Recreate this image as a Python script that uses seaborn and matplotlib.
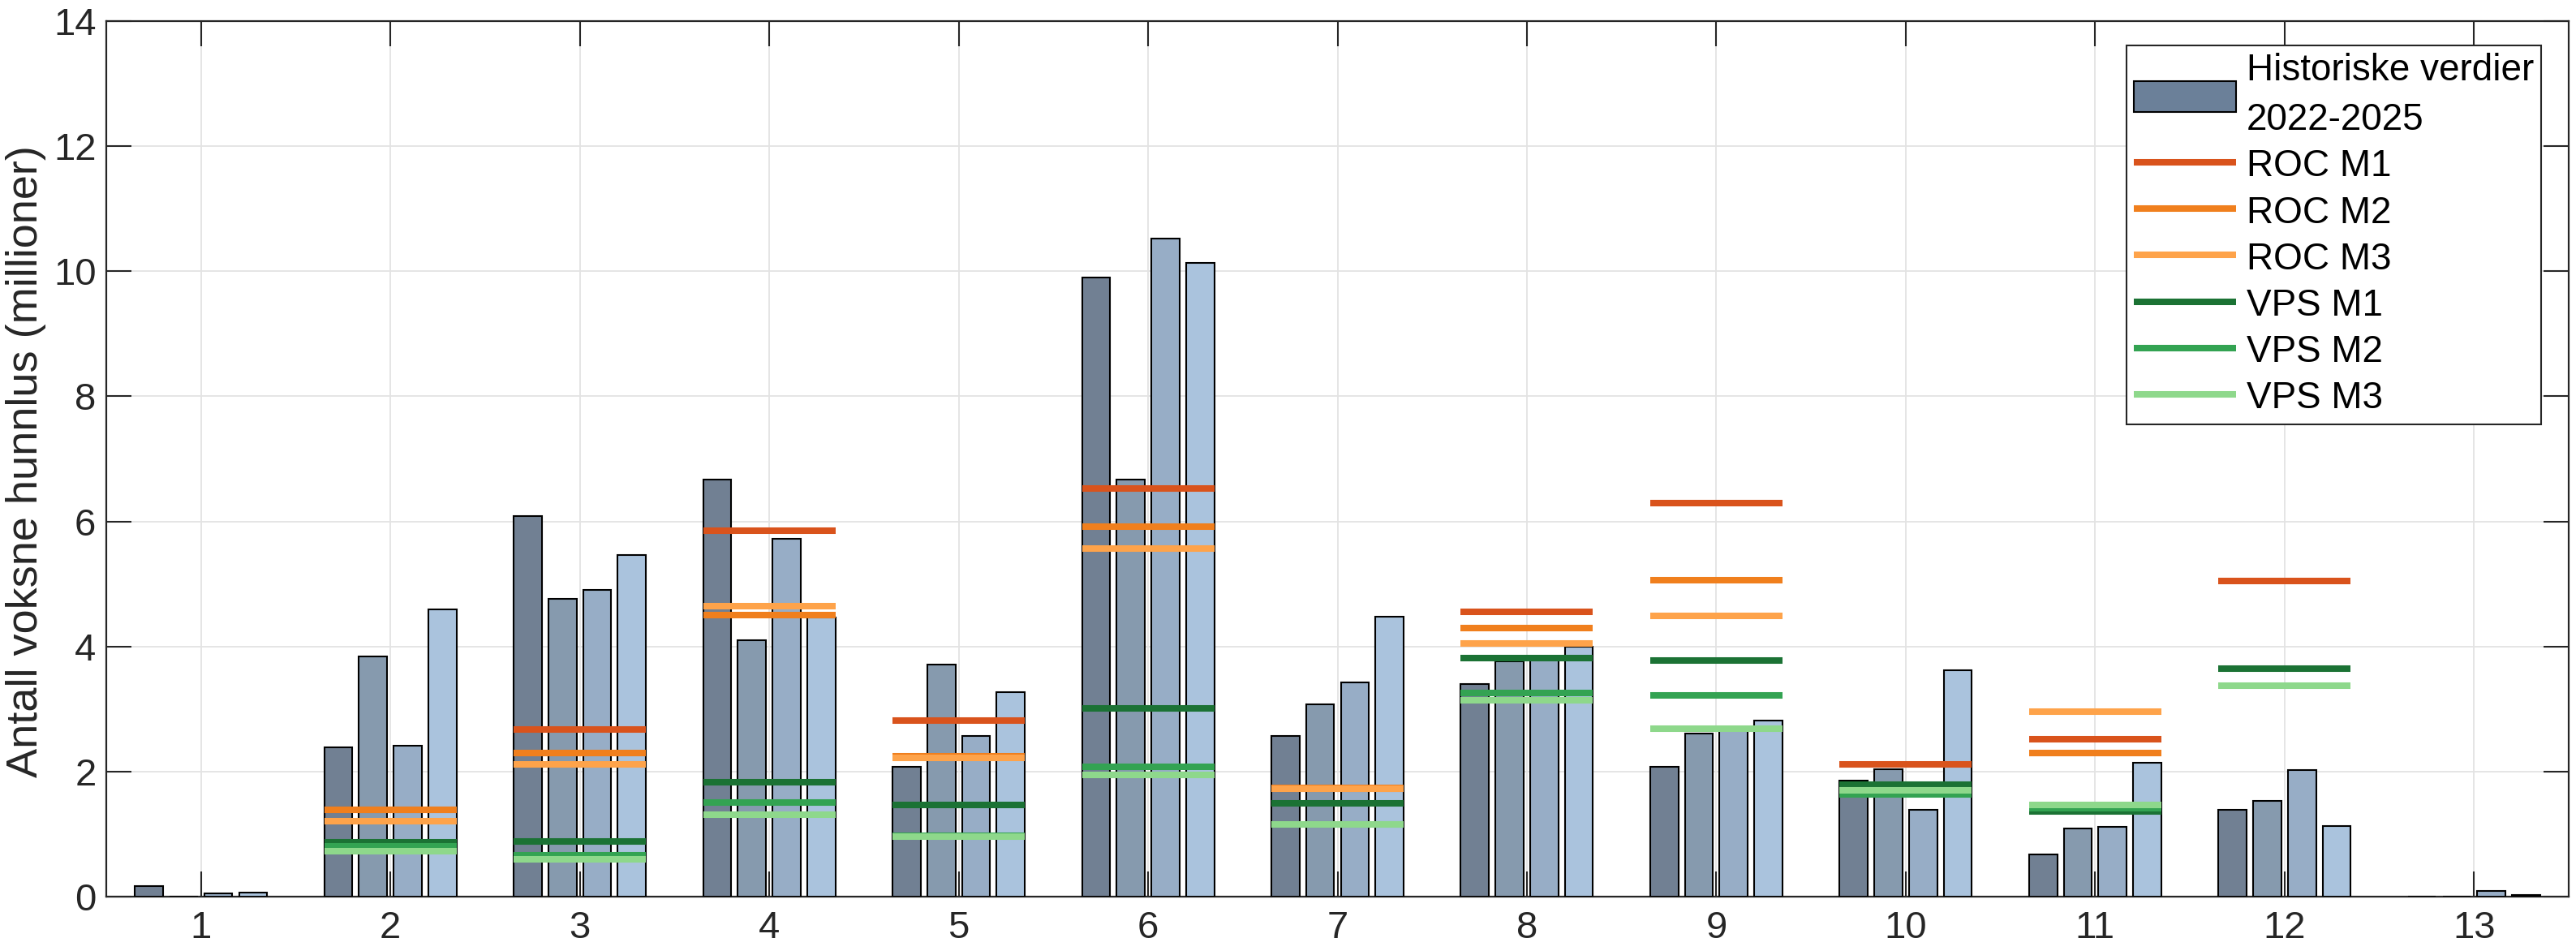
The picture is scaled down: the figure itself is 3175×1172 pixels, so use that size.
import numpy as np
import pandas as pd
import matplotlib
matplotlib.use("Agg")
import matplotlib.pyplot as plt
from matplotlib.patches import Patch
from matplotlib.lines import Line2D
import seaborn as sns

# ---------------- data ----------------
groups = ["1", "2", "3", "4", "5", "6", "7", "8", "9", "10", "11", "12", "13"]
years = ["2022", "2023", "2024", "2025"]

hist_2022 = [0.165, 2.39, 6.09, 6.67, 2.08, 9.90, 2.57, 3.40, 2.08, 1.86, 0.67, 1.39, 0.0]
hist_2023 = [0.0, 3.84, 4.76, 4.10, 3.71, 6.67, 3.07, 3.76, 2.61, 2.04, 1.09, 1.53, 0.0]
hist_2024 = [0.05, 2.41, 4.91, 5.72, 2.57, 10.52, 3.43, 3.80, 2.66, 1.39, 1.12, 2.03, 0.095]
hist_2025 = [0.07, 4.59, 5.46, 4.46, 3.27, 10.13, 4.47, 4.00, 2.82, 3.62, 2.14, 1.13, 0.03]

nan = np.nan
roc_m1 = [nan, 1.39, 2.67, 5.85, 2.82, 6.53, 1.73, 4.56, 6.29, 2.11, 2.52, 5.05, nan]
roc_m2 = [nan, 1.39, 2.30, 4.50, 2.24, 5.92, 1.74, 4.30, 5.06, nan, 2.30, nan, nan]
roc_m3 = [nan, 1.21, 2.12, 4.65, 2.22, 5.56, 1.72, 4.05, 4.49, nan, 2.96, nan, nan]
vps_m1 = [nan, 0.87, 0.88, 1.83, 1.46, 3.01, 1.49, 3.81, 3.78, 1.79, 1.36, 3.64, nan]
vps_m2 = [nan, 0.80, 0.66, 1.50, 0.97, 2.08, 1.15, 3.26, 3.22, 1.63, 1.41, nan, nan]
vps_m3 = [nan, 0.73, 0.60, 1.31, 0.96, 1.95, 1.15, 3.14, 2.68, 1.70, 1.46, 3.37, nan]

bar_colors = ["#6b8099", "#7f9ab5", "#8facce", "#a2c3e5"]
series_names = ["ROC M1", "ROC M2", "ROC M3", "VPS M1", "VPS M2", "VPS M3"]
series_values = [roc_m1, roc_m2, roc_m3, vps_m1, vps_m2, vps_m3]
series_colors = ["#d9531c", "#f07f1d", "#fea34a", "#1b7234", "#33a352", "#8ed88b"]

hist_label = "Historiske verdier\n2022-2025"
ylabel = "Antall voksne hunnlus (millioner)"

# ---------------- build table ----------------
hist = [hist_2022, hist_2023, hist_2024, hist_2025]
df = pd.DataFrame(
    [(g, y, hist[j][i]) for j, y in enumerate(years) for i, g in enumerate(groups)],
    columns=["group", "year", "value"],
)

# ---------------- style ----------------
sns.set_theme(style="white")
plt.rcParams["font.family"] = ["Liberation Sans", "DejaVu Sans"]
txt = "#262626"

fig = plt.figure(figsize=(31.75, 11.72), dpi=100)
ax = fig.add_axes([131 / 3175, 1 - 1105 / 1172, (3166 - 131) / 3175, (1105 - 26) / 1172])

group_width = 0.733
sns.barplot(
    data=df, x="group", y="value", hue="year",
    order=groups, hue_order=years, palette=bar_colors,
    width=group_width, gap=0.19, edgecolor="black", linewidth=1.5,
    legend=False, errorbar=None, ax=ax, zorder=3,
)

half = 0.349
for name, vals, col in zip(series_names, series_values, series_colors):
    for i, v in enumerate(vals):
        if np.isfinite(v):
            ax.plot([i - half, i + half], [v, v], color=col, lw=5.8,
                    solid_capstyle="butt", zorder=4)

ax.set_xlim(-0.5, len(groups) - 0.5)
ax.set_ylim(0, 14)
ax.set_yticks(np.arange(0, 15, 2))
ax.set_xticks(range(len(groups)))
ax.set_xticklabels(groups)
ax.set_xlabel("")
ax.set_ylabel(ylabel, fontsize=39, color=txt)
ax.yaxis.set_label_coords(-0.0244, 0.497)

ax.grid(True, color="#e3e3e3", lw=1.3, zorder=0)
ax.set_axisbelow(True)
for s in ax.spines.values():
    s.set_visible(True)
    s.set_color(txt)
    s.set_linewidth(1.6)
ax.tick_params(axis="both", which="major", direction="in", length=22, width=1.5,
               color=txt, labelcolor=txt, labelsize=34,
               top=True, right=True, bottom=True, left=True)
ax.tick_params(axis="y", pad=9)
ax.tick_params(axis="x", pad=12)

handles = [Patch(facecolor=bar_colors[0], edgecolor="black", linewidth=1.5)]
handles += [Line2D([0], [0], color=c, lw=5.8, solid_capstyle="butt") for c in series_colors]
labels = [hist_label] + series_names
leg = ax.legend(handles, labels, loc="upper right", bbox_to_anchor=(0.9888, 0.9722),
                borderaxespad=0, fontsize=33, frameon=True, fancybox=False,
                framealpha=1, edgecolor=txt, handlelength=2.75, handleheight=0.9,
                handletextpad=0.28, labelspacing=0.27, borderpad=0.2)
leg.get_frame().set_linewidth(1.5)
texts = leg.get_texts()
texts[0].set_linespacing(1.5)
for t in texts:
    t.set_color("black")

fig.savefig("out.png", dpi=100)
